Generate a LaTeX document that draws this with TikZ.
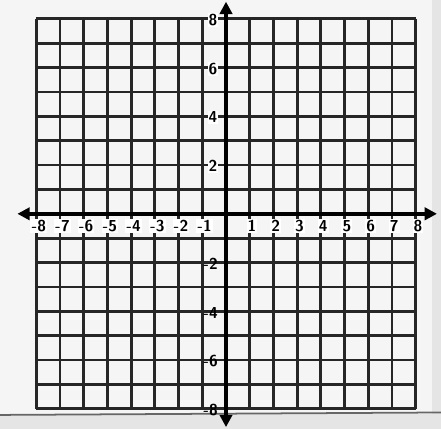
\documentclass[tikz,border=0pt]{standalone}
\usepackage{tikz}
\usetikzlibrary{arrows.meta}
\tikzset
{
    gridline/.style = {line width=1.6pt, black!85},
    axisline/.style = {line width=2.4pt, black, {Triangle[length=7pt,width=7pt]}-{Triangle[length=7pt,width=7pt]}},
    ticklabel/.style = {font=\sffamily\bfseries\fontsize{9}{9}\selectfont, inner sep=0.6pt, fill=white}
}

\begin{document}
\begin{tikzpicture}[x=0.474cm, y=0.4875cm]
\useasboundingbox (-9.535,-8.81) rectangle (9.07,8.77);
%% paper
\fill[black!10] (-9.535,-8.81) rectangle (9.07,8.77);
\fill[black!4] (-9.535,-8.2) rectangle (8.7,8.77);
\draw[line width=1pt, black!60] (-9.535,-8.25) -- (9.07,-8.15);
\fill[white!96!black] (-8,-8) rectangle (8,8);

%% grid
\foreach \i in {-8,...,8}
{
	\draw[gridline] (\i,-8) -- (\i,8);
	\draw[gridline] (-8,\i) -- (8,\i);
}

%% axes
\coordinate (xl) at (-8.8,0);
\coordinate (xr) at (8.9,0);
\coordinate (yb) at (0,-8.75);
\coordinate (yt) at (0,8.7);
\draw[axisline] (xl) -- (xr);
\draw[axisline] (yb) -- (yt);

%% labels
\foreach \i in {-8,...,-1,1,2,...,8}
	\node (x\i) [ticklabel] at (\i+0.1,-0.5) {\i};
\foreach \i in {2,4,6,8}
	\node (y\i) [ticklabel] at (-0.55,\i-0.05) {\i};
\foreach \i in {-2,-4,-6,-8}
	\node (y\i) [ticklabel, fill=none] at (-0.65,\i-0.05) {\i};

\end{tikzpicture}
\end{document}
